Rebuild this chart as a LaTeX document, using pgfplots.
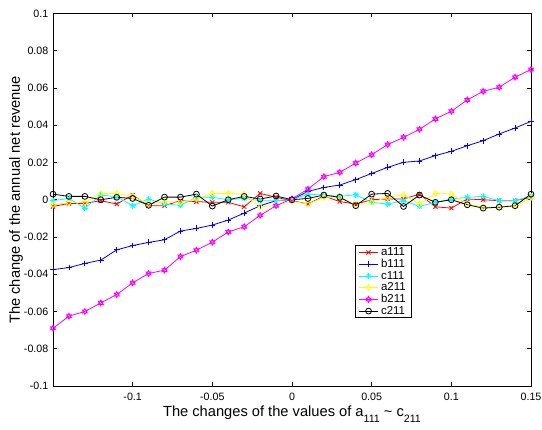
\documentclass[border=0pt]{standalone}
\usepackage{fontspec}
\setmainfont{Liberation Sans}
\usepackage{pgfplots}
\usepackage{pgfplotstable}
\pgfplotsset{compat=1.18}
\definecolor{mlred}{RGB}{255,0,0}
\definecolor{mlblue}{RGB}{0,0,255}
\definecolor{mlcyan}{RGB}{0,255,255}
\definecolor{mlyellow}{RGB}{255,255,0}
\definecolor{mlmagenta}{RGB}{255,0,255}

% MATLAB-like marks
\pgfdeclareplotmark{hexagram}{%
  \pgfpathmoveto{\pgfqpointpolar{90}{\pgfplotmarksize}}%
  \pgfpathlineto{\pgfqpointpolar{210}{\pgfplotmarksize}}%
  \pgfpathlineto{\pgfqpointpolar{330}{\pgfplotmarksize}}%
  \pgfpathclose
  \pgfpathmoveto{\pgfqpointpolar{270}{\pgfplotmarksize}}%
  \pgfpathlineto{\pgfqpointpolar{30}{\pgfplotmarksize}}%
  \pgfpathlineto{\pgfqpointpolar{150}{\pgfplotmarksize}}%
  \pgfpathclose
  \pgfusepathqstroke}
\pgfdeclareplotmark{mlstar}{\pgfuseplotmark{+}\pgfuseplotmark{x}}

\pgfplotstableread{
x      a111    b111    c111    a211    b211    c211
-0.15 -0.0036 -0.0375 -0.0005 -0.0027 -0.0690  0.0030
-0.14 -0.0020 -0.0364  0.0007 -0.0014 -0.0625  0.0018
-0.13 -0.0020 -0.0342 -0.0045 -0.0014 -0.0600  0.0018
-0.12 -0.0005 -0.0324  0.0025  0.0034 -0.0554  0.0000
-0.11 -0.0023 -0.0269  0.0016  0.0034 -0.0509  0.0013
-0.10  0.0025 -0.0246 -0.0032  0.0018 -0.0446  0.0007
-0.09 -0.0032 -0.0229  0.0004 -0.0023 -0.0396 -0.0030
-0.08 -0.0032 -0.0215 -0.0023 -0.0010 -0.0378  0.0014
-0.07 -0.0005 -0.0168 -0.0030 -0.0014 -0.0305  0.0014
-0.06 -0.0010 -0.0154  0.0013  0.0004 -0.0271  0.0030
-0.05 -0.0014 -0.0136  0.0013  0.0034 -0.0228 -0.0034
-0.04 -0.0014 -0.0109  0.0000  0.0034 -0.0173  0.0000
-0.03 -0.0038 -0.0072  0.0007  0.0030 -0.0145  0.0018
-0.02  0.0034 -0.0032 -0.0005 -0.0038 -0.0084  0.0004
-0.01  0.0013 -0.0005 -0.0005 -0.0030 -0.0032  0.0020
 0.00 -0.0005  0.0000  0.0000 -0.0008  0.0005  0.0000
 0.01 -0.0023  0.0045  0.0030 -0.0023  0.0057  0.0007
 0.02  0.0020  0.0066  0.0025  0.0013  0.0124  0.0025
 0.03 -0.0010  0.0079  0.0018  0.0013  0.0147  0.0013
 0.04 -0.0023  0.0108  0.0027 -0.0027  0.0197 -0.0032
 0.05  0.0000  0.0141 -0.0014 -0.0014  0.0242  0.0030
 0.06  0.0004  0.0174 -0.0023  0.0013  0.0296  0.0034
 0.07  0.0004  0.0201 -0.0005  0.0027  0.0335 -0.0036
 0.08  0.0030  0.0208 -0.0036 -0.0023  0.0378  0.0025
 0.09 -0.0038  0.0237 -0.0014  0.0034  0.0434 -0.0014
 0.10 -0.0045  0.0260  0.0004  0.0030  0.0475  0.0000
 0.11  0.0004  0.0290  0.0013 -0.0023  0.0536 -0.0027
 0.12  0.0000  0.0317  0.0018 -0.0040  0.0582 -0.0045
 0.13 -0.0005  0.0353 -0.0005 -0.0040  0.0604 -0.0040
 0.14 -0.0005  0.0385 -0.0005 -0.0038  0.0658 -0.0032
 0.15  0.0013  0.0421  0.0020  0.0013  0.0699  0.0030
}\revdata

\begin{document}
\begin{tikzpicture}
\useasboundingbox (-39.75pt,-32.25pt) rectangle (366.75pt,289.5pt);
\begin{axis}[
    scale only axis,
    width=358.5pt, height=279.4pt,
    xmin=-0.15, xmax=0.15,
    ymin=-0.1, ymax=0.1,
    xtick={-0.1,-0.05,0,0.05,0.1,0.15},
    xticklabels={-0.1,-0.05,0,0.05,0.1,0.15},
    ytick={-0.1,-0.08,-0.06,-0.04,-0.02,0,0.02,0.04,0.06,0.08,0.1},
    yticklabels={-0.1,-0.08,-0.06,-0.04,-0.02,0,0.02,0.04,0.06,0.08,0.1},
    tick align=inside,
    major tick length=3pt,
    axis line style={line width=0.6pt},
    tick style={line width=0.5pt, black},
    tick label style={font=\fontsize{8}{9}\selectfont},
    xticklabel style={yshift=-2pt},
    every axis x label/.style={at={(axis description cs:0.5,0)}, anchor=base, yshift=-22.5pt},
    every axis y label/.style={at={([xshift=-27.75pt]axis description cs:0,0.5)}, rotate=90, anchor=center},
    label style={font=\fontsize{11}{13}\selectfont},
    xlabel={The changes of the values of a\raisebox{-0.8ex}{\fontsize{8}{8}\selectfont 111} \textasciitilde{} c\raisebox{-0.8ex}{\fontsize{8}{8}\selectfont 211}},
    ylabel={The change of the annual net revenue},
    mark size=2.2pt,
    every axis plot/.append style={line width=0.6pt},
    legend style={at={(axis cs:0.0395,-0.0245)}, anchor=north west,
        font=\fontsize{8.6}{9}\selectfont, draw=black, line width=0.6pt,
        inner xsep=2.5pt, inner ysep=1.5pt, row sep=1.8pt,
        nodes={inner ysep=0pt, text height=6pt, text depth=1pt},
        cells={anchor=west}},
    legend image code/.code={%
        \draw[mark repeat=2,mark phase=2] plot coordinates {(0cm,0cm) (0.25cm,0cm) (0.5cm,0cm)};},
]
\addplot[mlred, mark=x] table[x=x,y=a111] {\revdata};
\addlegendentry{a111}
\addplot[mlblue, mark=+] table[x=x,y=b111] {\revdata};
\addlegendentry{b111}
\addplot[mlcyan, mark=mlstar] table[x=x,y=c111] {\revdata};
\addlegendentry{c111}
\addplot[mlyellow, mark=diamond] table[x=x,y=a211] {\revdata};
\addlegendentry{a211}
\addplot[mlmagenta, mark=hexagram] table[x=x,y=b211] {\revdata};
\addlegendentry{b211}
\addplot[black, mark=o] table[x=x,y=c211] {\revdata};
\addlegendentry{c211}
\end{axis}
\end{tikzpicture}
\end{document}
